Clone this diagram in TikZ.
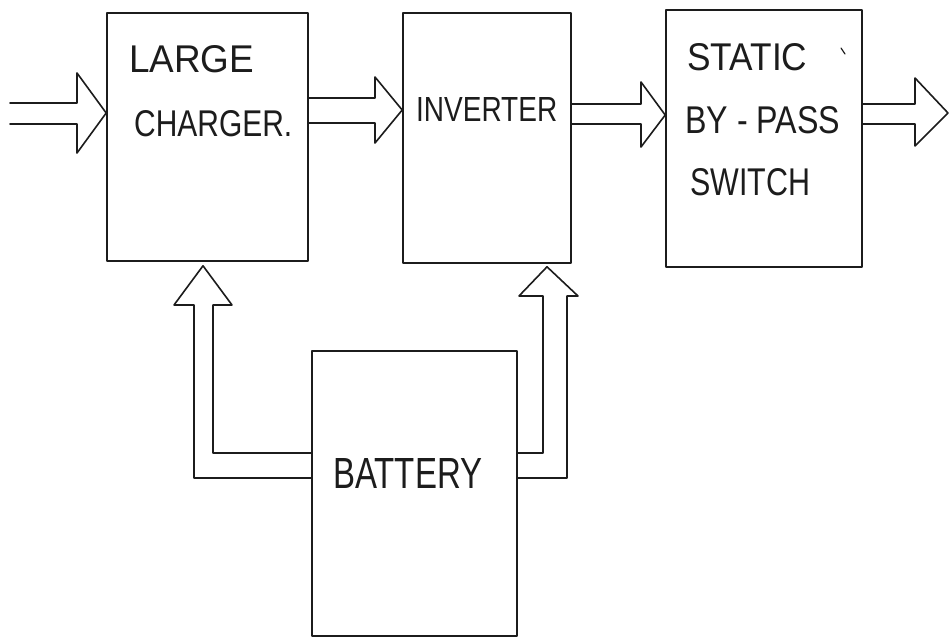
\documentclass[tikz,border=0pt]{standalone}
\usepackage{fontspec}
\setmainfont{Liberation Sans}
\usetikzlibrary{calc}
\definecolor{ink}{HTML}{1C1C1C}
% hand-lettered words: fixed width and cap height
\newcommand{\penword}[3]{\resizebox{#1pt}{#2pt}{#3}}

\begin{document}
\begin{tikzpicture}[x=1pt,y=-1pt,
  inkline/.style={line width=1.6pt, draw=ink, line join=round, line cap=round},
  block/.style={inkline, rectangle, inner sep=0pt},
  word/.style={anchor=base west, inner sep=0pt, text=ink}]

\useasboundingbox[fill=white] (0,0) rectangle (950,640);

% blocks
\node[block, minimum width=201pt, minimum height=248pt] (charger)  at (207.5,137) {};
\node[block, minimum width=168pt, minimum height=250pt] (inverter) at (487,138) {};
\node[block, minimum width=196pt, minimum height=257pt] (static)   at (764,138.5) {};
\node[block, minimum width=205pt, minimum height=285pt] (battery)  at (414.5,493.5) {};

% lettering
\node[word] (tLarge)   at (129,72)  {\penword{125}{27}{LARGE}};
\node[word] (tCharger) at (134,136) {\penword{158}{26}{CHARGER.}};
\node[word] (tInv)     at (416,121) {\penword{141}{24}{INVERTER}};
\node[word] (tStatic)  at (687,70)  {\penword{120}{27}{STATIC}};
\node[word] (tBypass)  at (685,133) {\penword{155}{27}{BY - PASS}};
\node[word] (tSwitch)  at (690,195) {\penword{120}{27}{SWITCH}};
\node[word] (tBatt)    at (333,488) {\penword{149}{30}{BATTERY}};
\draw[inkline, line width=1.2pt] (841,48) -- (845,54);

% supply into the charger
\coordinate (feed) at (10,113);
\draw[inkline] (feed |- 0,103) -- (77,103) -- (77,73) -- (charger.west |- 0,113)
  -- (77,153) -- (77,124) -- (feed |- 0,124);

% charger -> inverter
\draw[inkline] (charger.east |- 0,98) -- (375,98) -- (375,77) -- (inverter.west |- 0,110)
  -- (375,143) -- (375,123) -- (charger.east |- 0,123);

% inverter -> static switch
\draw[inkline] (inverter.east |- 0,104) -- (641,104) -- (641,82) -- (static.west |- 0,115)
  -- (641,147) -- (641,124) -- (inverter.east |- 0,124);

% static switch -> load
\coordinate (load) at (948,113);
\draw[inkline] (static.east |- 0,104) -- (915,104) -- (915,78) -- (load)
  -- (915,146) -- (915,124) -- (static.east |- 0,124);

% battery -> charger
\draw[inkline] (battery.west |- 0,453) -- (213,453) -- (213,305) -- (232,305)
  -- ($(charger.south -| 203,0)+(0,4)$) -- (174,305) -- (194,305) -- (194,478)
  -- (battery.west |- 0,478);

% battery -> inverter
\draw[inkline] (battery.east |- 0,453) -- (543,453) -- (543,296) -- (519,296)
  -- ($(inverter.south -| 547,0)+(0,3)$) -- (578,296) -- (567,296) -- (567,478)
  -- (battery.east |- 0,478);

\end{tikzpicture}
\end{document}
